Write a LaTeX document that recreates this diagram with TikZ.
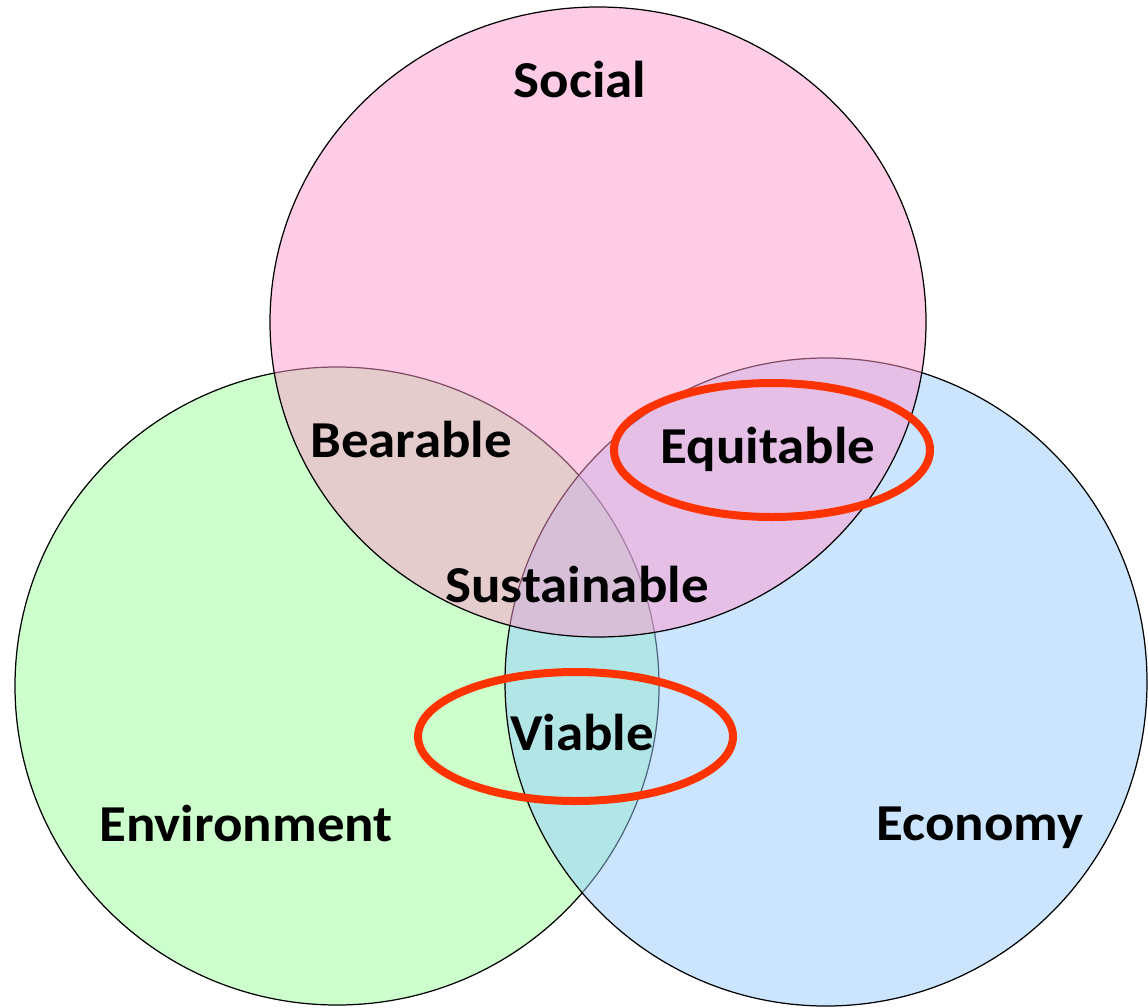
\documentclass[tikz,border=0pt]{standalone}
\usepackage{fontspec}
\setmainfont{Carlito}[FakeStretch = 1.06]
\begin{document}
\begin{tikzpicture}[x = 0.02cm, y = -0.02cm, label text/.style = {anchor = base, font = \fontsize{29.5}{35}\selectfont\bfseries}, ring/.style = {draw = ringcolor, line width = 0.16cm}]
\useasboundingbox (0,0) rectangle (1148,1007);
\definecolor{envcolor}{RGB}{153,255,153}
\definecolor{ecocolor}{RGB}{153,204,255}
\definecolor{socialcolor}{RGB}{255,153,204}
\definecolor{ringcolor}{RGB}{255,51,0}
\foreach \cx/\cy/\rx/\ry/\col in {337/686/322/319/envcolor, 826/682/321/324/ecocolor, 598/322/328/315/socialcolor} \draw [fill = \col, fill opacity = 0.5, draw = black, line width = 0.7pt] (\cx,\cy) ellipse [x radius = \rx, y radius = \ry];
\node (social) [label text] at (580,97) {Social};
\node (bearable) [label text] at (411,457) {Bearable};
\node (equitable) [label text] at (768,463) {Equitable};
\node (sustainable) [label text] at (577,602) {Sustainable};
\node (viable) [label text] at (582,750) {Viable};
\node (environment) [label text] at (246,841) {Environment};
\node (economy) [label text] at (980,840) {Economy};
\draw [ring] (772,450) ellipse [x radius = 158, y radius = 67];
\draw [ring] (575.5,736.5) ellipse [x radius = 157.5, y radius = 64.5];
\end{tikzpicture}
\end{document}
